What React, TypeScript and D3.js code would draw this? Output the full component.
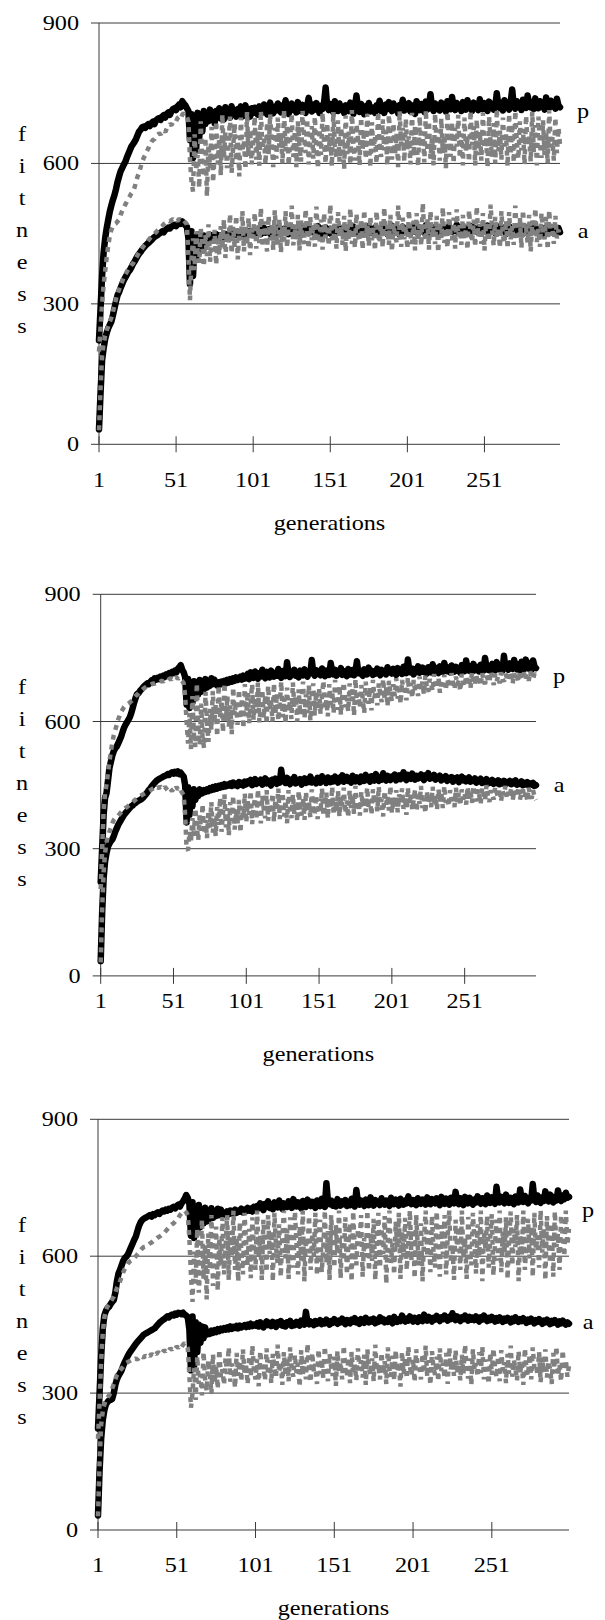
import React from 'react';
import * as d3 from 'd3';

// ---------- data ----------
const GENERATIONS: number[] = d3.range(1, 301);
const X_TICKS = [1, 51, 101, 151, 201, 251];
const Y_TICKS = [0, 300, 600, 900];
const Y_LABEL = ['f', 'i', 't', 'n', 'e', 's', 's'];
const X_TITLE = 'generations';
const SERIES_LABELS = ['p', 'a'];

// Panel 1
const P1_PB = [
222,290,360,410,440,462,480,497,510,522,
532,545,560,572,583,590,597,603,612,620,
628,636,641,646,652,660,668,672,677,679,
676,681,684,680,686,689,684,692,695,697,
693,700,703,698,706,709,704,712,716,718,
714,722,726,720,733,728,724,718,712,650,
705,612,690,628,708,655,700,668,712,684,
706,690,715,694,708,686,712,700,718,696,
712,694,720,702,710,698,722,704,714,700,
716,704,722,700,712,724,705,716,700,718,
708,719,712,704,722,715,709,726,711,705,718,730,714,707,721,713,728,716,709,724,
717,735,712,706,719,728,714,722,709,731,718,712,725,716,708,722,740,719,711,726,
715,729,718,708,723,716,731,762,722,714,727,718,709,733,720,712,728,716,721,708,
724,717,712,730,719,706,723,745,716,710,727,718,705,722,714,729,711,720,715,708,
724,717,734,712,721,708,726,716,731,719,712,728,715,722,707,725,718,736,713,720,
716,729,711,724,718,706,733,721,714,727,719,710,732,715,723,748,720,712,728,717,
724,713,730,718,725,711,733,720,716,742,722,714,729,718,725,712,731,720,715,735,
719,726,712,730,718,725,714,737,721,716,729,720,712,732,719,727,715,722,750,724,
718,729,713,735,721,726,715,731,758,723,717,733,720,728,714,736,722,719,745,727,
720,731,716,739,724,718,733,721,727,715,741,725,719,734,722,729,717,738,724,720
];
const P1_PG = [
198,250,300,340,370,400,425,445,458,465,
470,472,476,480,490,498,505,512,518,525,
530,536,540,548,560,572,580,592,603,612,
618,626,632,640,646,650,652,658,661,664,
662,668,671,667,675,679,684,682,688,692,
690,697,700,696,704,708,702,699,690,610,
560,540,662,585,618,548,690,600,572,655,530,640,590,678,560,
622,690,598,655,575,705,612,668,590,640,700,580,632,685,605,660,572,698,625,650,588,710,615,672,598,
642,700,608,668,595,712,630,655,598,688,620,705,645,592,676,610,698,634,660,600,
715,626,682,596,650,706,614,670,592,690,638,604,712,656,622,695,598,648,680,610,
700,632,590,674,618,708,644,600,686,626,664,594,710,640,612,692,604,676,650,588,
702,620,668,598,714,636,606,684,652,596,698,630,672,610,706,646,592,688,624,660,
600,710,642,614,694,628,670,596,704,654,608,686,620,664,592,712,638,676,604,696,
630,658,598,708,616,680,644,594,700,634,668,602,714,626,690,610,656,596,706,640,
672,606,696,622,660,590,710,648,614,688,600,676,636,704,612,664,596,698,628,652,
604,712,640,680,596,694,618,668,606,708,632,656,592,700,644,614,686,600,716,626,
670,608,698,636,662,594,706,620,684,602,712,646,610,690,628,674,598,702,638,660,
604,710,624,682,596,700,640,612,692,618,668,600,714,634,656,606,698,622,676,640
];
const P1_AB = [
32,110,180,205,225,238,248,255,262,275,
290,305,318,325,334,342,350,356,362,368,
372,378,385,390,396,402,407,411,416,420,
424,427,430,433,436,440,443,445,447,450,
452,455,453,458,460,463,461,465,467,469,
466,470,473,471,476,472,468,465,440,342,
455,360,440,395,448,410,445,420,446,428,
444,430,448,435,446,437,449,440,446,441,
447,443,449,444,450,446,452,447,451,448,454,449,452,447,455,450,453,448,456,451,
454,458,451,460,455,449,457,462,452,456,459,450,461,455,448,458,463,453,457,451,
460,455,462,449,456,464,452,458,450,461,456,447,459,465,453,457,451,462,455,460,
452,458,466,454,449,461,456,463,451,457,460,448,455,464,452,459,454,461,450,457,
463,455,449,460,457,465,451,458,454,462,447,456,461,453,459,466,452,457,450,463,
455,460,451,458,464,453,457,449,461,456,467,452,459,454,462,448,458,465,453,460,
456,462,451,459,466,454,458,450,463,457,461,452,468,455,459,451,464,456,460,453,
462,457,449,465,455,460,452,466,458,454,461,456,469,453,459,463,451,457,462,455,
460,452,466,457,461,454,459,464,450,458,463,455,467,452,460,456,462,451,458,465,
454,460,457,463,449,458,466,453,461,456,459,452,464,457,462,450,458,463,455,460,
452,461,457,464,453,459,455,462,450,458,463,454,460,456,461,452,459,455,462,453
];
const P1_AG = [
30,120,190,215,232,244,252,262,270,282,
296,310,322,330,340,348,356,362,368,374,
378,383,386,392,398,404,410,414,419,424,
428,432,436,440,444,447,450,453,457,460,
463,466,470,472,475,478,476,479,481,478,
480,477,482,479,476,478,474,470,400,308,
395,440,372,455,410,388,462,420,380,448,402,470,390,435,412,458,384,444,405,466,
418,480,398,452,430,492,408,465,420,488,395,458,436,498,412,470,426,484,404,462,
440,495,418,468,430,505,422,476,445,412,488,436,470,415,500,442,426,482,410,465,
434,498,420,472,448,510,425,462,438,490,414,478,444,428,502,452,418,486,436,470,
422,508,446,430,480,416,494,440,468,424,512,450,432,476,418,496,444,466,426,488,
412,474,438,504,428,460,420,492,446,434,480,416,500,442,470,424,486,436,462,414,
498,448,430,476,420,506,440,468,426,490,412,472,444,432,510,454,422,484,438,466,
418,500,446,428,478,414,494,436,470,424,515,450,434,482,416,498,442,464,428,488,
410,476,440,506,430,462,420,496,448,436,484,418,502,444,468,426,490,438,460,416,
500,452,432,480,422,508,442,470,428,494,414,474,446,434,512,456,424,486,440,464,
420,498,444,430,478,418,496,438,466,426,510,452,436,484,420,500,446,462,430,490,
412,478,442,504,432,460,422,494,450,438,486,416,500,446,470,428,488,440,458,445
];

// Panel 2
const P2_PB = [
222,300,380,420,431,460,490,505,520,530,
537,541,548,556,564,575,585,592,598,604,
610,620,632,645,656,665,667,672,676,680,
684,687,690,688,693,697,694,702,699,703,
700,706,703,708,705,711,708,714,712,717,
714,720,716,724,728,733,722,716,705,640,
700,632,688,645,695,655,690,664,698,670,
694,676,700,680,696,684,702,688,699,690,
685,692,687,694,689,696,690,698,692,700,694,702,696,704,698,700,706,699,708,701,
705,712,700,716,707,703,718,709,701,714,706,722,708,702,717,710,704,720,711,706,
715,708,724,710,703,719,712,707,740,714,705,718,711,722,708,716,704,720,713,709,
723,712,706,718,714,745,716,708,721,712,717,709,725,713,707,720,715,710,738,716,
711,722,708,718,714,726,710,719,713,707,724,716,711,721,709,718,742,714,720,712,
708,723,716,711,727,715,720,710,718,713,725,717,709,722,714,719,711,728,716,721,
713,724,718,710,726,716,722,712,729,719,714,746,720,716,725,711,723,718,730,715,
721,727,717,724,713,728,720,716,735,722,718,726,714,730,721,717,738,723,719,727,
716,732,722,718,729,720,725,715,733,723,719,744,724,720,730,717,736,726,721,728,
718,734,724,720,750,727,722,731,719,736,725,721,740,728,723,733,720,755,726,730,
722,737,727,724,745,729,723,734,721,741,728,724,746,730,725,738,722,744,729,726
];
const P2_PG = [
205,300,390,430,452,480,505,530,550,568,
580,592,604,614,622,628,634,638,640,642,
645,648,652,656,660,663,666,670,673,676,
679,681,683,685,686,688,690,689,691,693,
692,694,696,694,697,699,697,700,702,699,
703,701,705,700,704,698,695,690,660,600,
548,620,535,660,572,540,690,590,545,642,560,538,670,600,552,
630,580,672,596,640,565,685,610,650,575,690,602,660,588,638,570,680,615,648,592,675,606,655,584,688,
612,670,596,645,688,604,658,620,692,598,640,675,608,662,594,684,628,650,600,690,
618,666,602,642,694,610,656,596,680,624,648,606,692,634,660,600,676,616,652,694,
608,664,620,686,602,646,690,614,670,628,
680,618,660,696,630,650,612,688,640,672,620,698,646,628,684,616,664,692,634,656,
624,690,648,676,614,700,640,668,632,686,652,620,694,660,642,680,626,698,656,672,
638,690,664,646,700,652,682,636,696,668,648,688,660,702,654,676,642,698,670,684,
650,704,666,690,656,698,672,686,660,706,
676,694,664,708,682,670,700,688,672,712,690,678,704,668,696,684,710,674,700,688,
680,714,692,676,706,686,698,672,712,694,682,708,690,700,678,716,696,686,710,692,
700,684,714,696,688,708,698,692,718,702,686,712,696,706,690,716,700,694,712,704,
696,718,704,690,714,700,708,694,720,706,698,716,702,710,696,718,706,700,714,708
];
const P2_AB = [
35,150,230,270,290,305,312,318,322,330,
340,348,356,362,368,374,380,384,388,392,
396,400,402,406,408,411,413,415,417,420,
424,428,433,438,442,447,451,455,459,462,
464,466,468,470,472,473,476,474,478,480,
477,481,478,482,476,479,474,470,450,362,
445,380,438,400,440,415,436,424,440,430,
431,438,434,440,436,443,438,445,440,447,
442,448,444,450,446,452,447,451,449,454,448,456,450,453,448,457,451,455,449,458,
452,459,455,462,450,458,464,453,460,456,463,451,459,466,454,461,457,449,463,458,
465,453,460,456,486,459,462,455,467,458,452,463,457,469,454,461,458,464,451,460,
466,455,462,458,470,456,463,459,454,467,461,456,471,460,464,455,468,462,457,466,
459,470,463,456,467,461,473,458,464,469,460,466,456,472,463,459,468,464,457,470,
465,460,474,462,467,458,471,464,461,476,466,460,469,463,478,465,461,472,467,462,
470,466,475,461,468,473,464,470,480,466,462,474,469,465,477,468,463,472,466,470,
475,467,462,473,469,478,465,471,467,474,463,470,466,472,461,468,464,471,460,467,
463,469,458,466,462,468,457,465,470,461,466,459,464,468,458,463,460,466,456,462,
459,465,455,461,457,464,454,460,456,462,453,459,455,461,452,458,454,460,451,457,
455,460,452,458,454,461,451,456,453,459,450,455,452,457,449,454,451,455,448,450
];
const P2_AG = [
32,160,245,290,315,330,340,350,360,368,
372,375,378,382,386,390,393,396,398,401,
404,407,410,413,416,419,421,424,426,428,
430,432,434,436,438,440,442,444,441,445,
443,446,444,440,446,442,438,444,440,436,
442,438,446,440,444,437,432,425,380,300,
296,340,318,372,330,395,352,320,380,342,405,335,368,325,390,350,410,338,374,330,
398,356,420,340,382,428,350,396,332,410,366,425,345,388,360,415,338,400,372,430,
362,412,380,436,358,398,420,370,440,386,360,425,394,372,438,366,406,384,430,364,
416,390,442,370,402,432,376,414,360,438,396,372,428,382,410,365,436,400,378,420,
368,434,388,412,374,440,396,380,426,370,
418,386,442,378,404,432,372,420,394,446,380,410,388,436,376,422,400,444,384,414,
374,438,396,426,382,448,390,412,378,434,402,420,386,444,398,416,380,440,406,428,
388,446,392,418,376,436,404,424,390,448,384,414,398,438,386,428,410,442,394,420,
380,444,402,430,392,416,440,388,426,406,448,396,418,384,436,410,428,398,446,404,
422,392,440,412,430,396,448,408,420,400,438,414,426,398,444,410,432,402,440,416,
430,404,446,418,436,408,448,422,412,440,426,406,444,430,414,450,424,410,438,428,
416,446,432,420,442,412,436,426,448,418,434,424,444,414,438,428,422,446,416,432,
440,420,436,412,444,426,418,438,422,415
];

// Panel 3
const P3_PB = [
222,300,380,440,470,480,486,489,495,500,
504,520,545,562,570,580,590,596,599,604,
612,620,628,636,643,655,666,674,679,682,
684,686,688,690,687,692,690,694,696,693,
697,700,698,702,700,704,702,706,708,705,
710,713,709,716,720,726,734,728,715,645,
718,640,705,655,712,664,700,672,706,676,
700,682,705,684,698,688,704,690,702,692,
696,690,698,692,700,694,697,702,695,700,698,704,696,702,699,706,700,704,698,708,
702,710,705,716,708,701,714,709,720,706,712,703,718,710,707,722,711,704,716,712,
708,720,713,706,725,715,709,718,712,705,721,714,708,724,716,710,719,713,706,722,
715,710,726,717,708,760,720,714,722,711,717,709,725,716,711,720,714,723,710,718,
712,726,716,709,745,719,713,722,716,710,724,717,712,729,718,711,723,716,720,712,
727,717,713,722,716,710,728,719,714,724,717,711,726,718,713,722,716,731,719,714,
723,716,712,727,718,715,724,720,713,729,718,714,725,719,716,727,721,712,730,720,
715,726,719,713,728,721,716,741,720,714,727,719,712,730,722,716,728,719,713,724,
718,731,721,715,727,720,714,733,722,717,729,720,715,752,723,718,730,721,716,735,
722,717,728,720,714,731,723,718,746,724,719,732,721,716,728,722,758,725,719,733,
723,717,729,721,742,726,720,735,724,718,730,722,744,727,721,733,725,739,728,730
];
const P3_PG = [
200,280,370,430,465,482,490,495,500,506,
511,520,530,537,545,555,565,572,578,584,
588,590,592,596,600,604,608,613,617,620,
621,622,625,628,630,633,636,638,641,643,
645,648,651,655,659,663,667,670,672,676,
680,684,690,694,698,700,696,690,640,560,
500,610,540,660,520,590,680,550,625,505,650,570,690,535,600,665,525,640,580,685,
560,620,690,548,655,600,700,570,640,545,675,610,560,695,630,580,660,552,685,615,
570,700,600,645,548,680,625,565,690,605,655,545,695,620,585,670,555,640,700,595,
660,550,685,612,575,698,630,560,665,590,700,545,640,610,688,570,650,600,695,558,
635,680,565,615,700,585,655,548,690,620,575,668,605,700,552,645,590,685,560,630,
672,545,698,610,580,660,625,690,555,640,600,700,568,650,590,682,548,620,695,575,
662,605,688,540,645,700,585,630,560,676,615,695,550,655,598,684,570,640,700,590,
660,552,690,620,580,672,545,640,700,600,655,565,688,612,575,698,630,555,668,605,
690,560,645,700,585,625,548,680,610,665,570,700,595,640,550,686,618,580,695,630,
562,670,600,700,545,650,615,688,575,640,692,558,625,680,590,700,565,655,605,685,
550,638,698,580,660,620,690,545,648,602,700,570,635,682,595,665,555,695,615,645,
575,700,608,660,548,688,630,585,672,555,698,620,650,570,690,640,600,700,625,660
];
const P3_AB = [
32,130,200,240,262,275,280,284,285,287,
300,318,330,338,344,350,360,368,375,382,
388,393,398,403,408,412,416,420,424,428,
430,432,434,436,438,440,442,446,450,454,
457,460,462,465,468,466,470,472,470,474,
472,476,475,473,476,472,470,466,440,350,
468,360,455,390,450,410,446,420,444,428,
434,430,437,432,438,434,440,436,441,438,
442,439,444,440,446,441,445,443,447,442,448,444,446,449,445,450,446,452,447,450,
448,453,446,455,450,444,452,457,449,454,447,456,451,445,455,450,458,448,453,446,
455,451,458,447,453,449,456,452,448,459,454,450,478,455,451,457,453,449,458,452,
456,460,451,457,453,461,455,450,458,454,462,456,452,459,455,463,457,451,460,456,
453,461,457,464,455,459,452,462,458,454,465,459,455,461,457,463,453,460,456,466,
458,462,455,460,456,464,459,453,467,460,456,462,458,470,461,457,463,459,468,462,
457,465,460,456,466,461,458,472,463,459,467,462,457,465,461,469,463,458,466,462,
470,464,459,467,462,475,465,460,468,463,458,466,462,470,464,459,467,461,465,460,
468,462,457,466,461,470,463,458,465,460,467,462,457,464,459,466,461,456,463,459,
465,460,455,463,458,466,461,456,462,458,464,459,454,461,457,463,458,453,460,456,
462,457,452,459,455,461,456,451,458,454,460,455,450,457,453,459,454,450,455,452
];
const P3_AG = [
30,150,230,260,275,285,290,295,300,310,
320,330,340,346,350,354,358,362,366,368,
370,372,371,374,376,373,378,376,380,378,
382,380,384,381,386,383,388,385,390,387,
392,389,394,391,396,393,398,395,400,397,
402,399,404,400,406,410,404,398,340,268,
300,355,285,380,320,340,295,390,330,305,372,345,298,385,322,360,310,395,335,352,
318,378,342,400,325,365,350,312,388,338,370,326,396,345,360,320,382,336,404,352,
330,375,315,392,348,362,328,398,340,372,322,386,355,334,406,346,368,318,390,338,
378,326,400,352,336,384,344,366,314,394,340,372,330,408,356,324,388,348,364,320,
396,342,374,332,402,350,326,386,358,338,380,316,392,346,368,330,404,354,336,378,
322,390,344,362,328,398,350,372,334,384,318,396,356,340,376,326,406,348,364,330,
388,342,370,320,400,352,336,382,328,394,346,366,314,390,340,378,332,402,358,338,
374,324,396,350,362,330,386,344,404,336,372,318,392,354,340,380,326,398,348,366,
334,388,320,400,352,370,338,394,346,362,328,384,342,406,356,332,376,318,396,350,
366,336,390,344,402,330,374,352,320,388,340,398,358,334,380,326,394,348,368,322,
386,342,404,336,372,354,328,392,346,366,318,398,350,338,384,330,400,356,362,340,
390,324,378,346,396,334,370,352,320,388,344,402,338,364,326,394,350,372,336,360
];

// ---------- layout ----------
type Layout = {
  x0: number; x1: number; yTop: number; y0: number;
  labX: number; pY: number; aY: number;
  tickLabY: number; titleY: number; fitY0: number;
};
const LAYOUTS: Layout[] = [
  { x0: 99, x1: 560, yTop: 23, y0: 444.3, labX: 583, pY: 118, aY: 238, tickLabY: 487, titleY: 530, fitY0: 141 },
  { x0: 100.7, x1: 536, yTop: 594.3, y0: 975.9, labX: 559, pY: 683, aY: 792, tickLabY: 1008, titleY: 1061, fitY0: 694 },
  { x0: 98, x1: 569, yTop: 1119.3, y0: 1530, labX: 588, pY: 1217, aY: 1329, tickLabY: 1572, titleY: 1615, fitY0: 1232 },
];
const PANEL_DATA = [
  { pb: P1_PB, pg: P1_PG, ab: P1_AB, ag: P1_AG },
  { pb: P2_PB, pg: P2_PG, ab: P2_AB, ag: P2_AG },
  { pb: P3_PB, pg: P3_PG, ab: P3_AB, ag: P3_AG },
];

const FONT = 'Liberation Serif, Times New Roman, Times, serif';
const FS = 22;
const STRETCH = 1.1;

function T({ x, y, anchor, children }: { x: number; y: number; anchor: string; children: React.ReactNode }) {
  return (
    <text
      transform={`translate(${x},${y}) scale(${STRETCH},1)`}
      textAnchor={anchor as any}
      style={{ fontFamily: FONT, fontSize: FS }}
      fill="#000"
    >
      {children}
    </text>
  );
}

function Panel({ L, D }: { L: Layout; D: typeof PANEL_DATA[0] }) {
  const x = d3.scaleLinear().domain([1, 300]).range([L.x0, L.x1]);
  const y = d3.scaleLinear().domain([0, 900]).range([L.y0, L.yTop]);
  const line = d3
    .line<number>()
    .x((_, i) => x(GENERATIONS[i]))
    .y((d) => y(d));
  const gridColor = '#3a3a3a';
  return (
    <g>
      {Y_TICKS.map((t) => (
        <line key={'g' + t} x1={L.x0 - 8} x2={L.x1} y1={y(t)} y2={y(t)} stroke={gridColor} strokeWidth={1} />
      ))}
      <line x1={L.x0} x2={L.x0} y1={L.yTop} y2={L.y0} stroke={gridColor} strokeWidth={1} />
      {X_TICKS.map((t) => (
        <line key={'t' + t} x1={x(t)} x2={x(t)} y1={L.y0 - 8} y2={L.y0 + 8} stroke={gridColor} strokeWidth={1} />
      ))}
      <path d={line(D.pb) || ''} fill="none" stroke="#000" strokeWidth={6.5} strokeLinejoin="round" strokeLinecap="round" />
      <path d={line(D.ab) || ''} fill="none" stroke="#000" strokeWidth={6.5} strokeLinejoin="round" strokeLinecap="round" />
      <path d={line(D.pg) || ''} fill="none" stroke="#808080" strokeWidth={4.5} strokeDasharray="5 5" strokeLinejoin="bevel" strokeLinecap="butt" />
      <path d={line(D.ag) || ''} fill="none" stroke="#808080" strokeWidth={4.5} strokeDasharray="5 5" strokeLinejoin="bevel" strokeLinecap="butt" />
      {Y_TICKS.map((t) => (
        <T key={'yl' + t} x={L.x0 - 20} y={y(t) + 7} anchor="end">{String(t)}</T>
      ))}
      {X_TICKS.map((t) => (
        <T key={'xl' + t} x={x(t)} y={L.tickLabY} anchor="middle">{String(t)}</T>
      ))}
      <T x={(L.x0 + L.x1) / 2} y={L.titleY} anchor="middle">{X_TITLE}</T>
      {Y_LABEL.map((c, i) => (
        <T key={'f' + i} x={22} y={L.fitY0 + i * 32} anchor="middle">{c}</T>
      ))}
      <T x={L.labX} y={L.pY} anchor="middle">{SERIES_LABELS[0]}</T>
      <T x={L.labX} y={L.aY} anchor="middle">{SERIES_LABELS[1]}</T>
    </g>
  );
}

export default function App() {
  return (
    <svg
      width={605}
      height={1620}
      viewBox="0 0 605 1620"
      style={{ position: 'absolute', left: 0, top: 0, background: '#fff' }}
    >
      <rect x={0} y={0} width={605} height={1620} fill="#fff" />
      {LAYOUTS.map((L, i) => (
        <Panel key={i} L={L} D={PANEL_DATA[i]} />
      ))}
    </svg>
  );
}
